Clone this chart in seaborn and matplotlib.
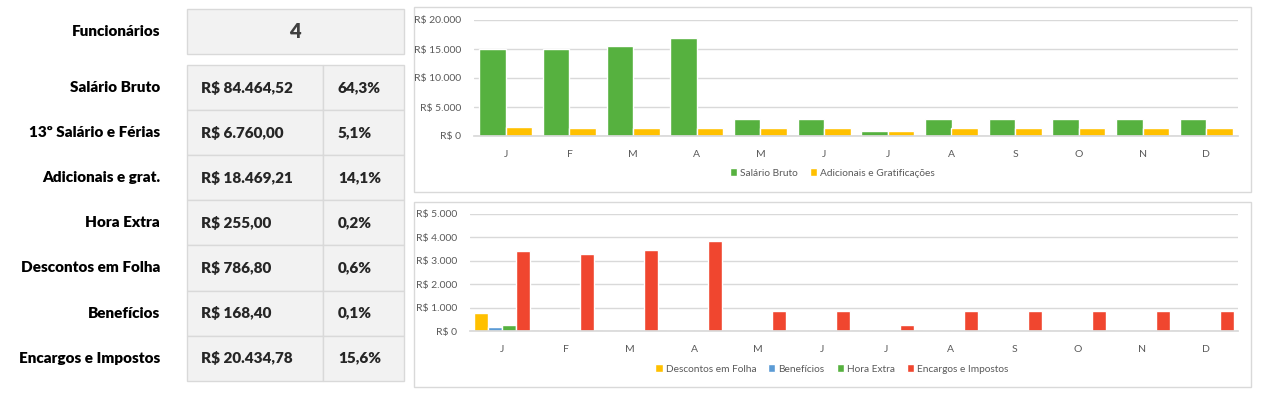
import matplotlib
matplotlib.use("Agg")
import matplotlib.pyplot as plt
from matplotlib.patches import Rectangle
from matplotlib.ticker import FuncFormatter, MultipleLocator
import pandas as pd
import seaborn as sns

# ---------------------------------------------------------------- data
meses = ["Jan", "Fev", "Mar", "Abr", "Mai", "Jun",
         "Jul", "Ago", "Set", "Out", "Nov", "Dez"]
meses_rotulo = ["J", "F", "M", "A", "M", "J", "J", "A", "S", "O", "N", "D"]

salario_bruto = [15000, 15000, 15500, 16900, 2950, 2950,
                 860, 2950, 2950, 2950, 2950, 2950]
adicionais = [1600, 1430, 1430, 1430, 1430, 1430,
              880, 1430, 1430, 1430, 1430, 1430]

descontos = [787, 0, 0, 0, 0, 0, 0, 0, 0, 0, 0, 0]
beneficios = [168, 0, 0, 0, 0, 0, 0, 0, 0, 0, 0, 0]
hora_extra = [255, 0, 0, 0, 0, 0, 0, 0, 0, 0, 0, 0]
encargos = [3430, 3300, 3475, 3860, 870, 870,
            270, 870, 870, 870, 870, 870]

funcionarios = "4"
resumo_rotulos = ["Salário Bruto", "13º Salário e Férias", "Adicionais e grat.",
                  "Hora Extra", "Descontos em Folha", "Benefícios",
                  "Encargos e Impostos"]
resumo_valores = ["R$ 84.464,52", "R$ 6.760,00", "R$ 18.469,21", "R$ 255,00",
                  "R$ 786,80", "R$ 168,40", "R$ 20.434,78"]
resumo_pct = ["64,3%", "5,1%", "14,1%", "0,2%", "0,6%", "0,1%", "15,6%"]

top_series = ["Salário Bruto", "Adicionais e Gratificações"]
bot_series = ["Descontos em Folha", "Benefícios", "Hora Extra", "Encargos e Impostos"]

top_colors = ["#56B13F", "#FFC000"]
bot_colors = ["#FFC000", "#5B9BD5", "#56B13F", "#F0462F"]

# ---------------------------------------------------------------- setup
sns.set_theme(style="white")
plt.rcParams["font.family"] = ["Lato", "DejaVu Sans"]

W, H = 1272, 399
fig = plt.figure(figsize=(W / 100, H / 100), dpi=100)
fig.patch.set_facecolor("white")

GRID = "#D9D9D9"
TXT = "#595959"


def px_axes(left, top, right, bottom, **kw):
    return fig.add_axes([left / W, 1 - bottom / H, (right - left) / W, (bottom - top) / H], **kw)


def brl(v, _pos=None):
    return "R$ " + f"{int(v):,}".replace(",", ".")


# background layer for table and chart frames
bg = px_axes(0, 0, W, H, zorder=0)
bg.set_xlim(0, W)
bg.set_ylim(H, 0)
bg.axis("off")

# Funcionários box
bg.add_patch(Rectangle((187, 9), 217, 45, facecolor="#F2F2F2", edgecolor=GRID, lw=1))
bg.text(160, 31, "Funcionários", ha="right", va="center", fontsize=11,
        fontweight="heavy", color="black")
bg.text(295, 32, funcionarios, ha="center", va="center", fontsize=14.5,
        fontweight="heavy", color="#404040")

# summary table
row_top, row_h = 65, 45.1
for i, (lab, val, pct) in enumerate(zip(resumo_rotulos, resumo_valores, resumo_pct)):
    y0 = row_top + i * row_h
    bg.add_patch(Rectangle((187, y0), 136, row_h, facecolor="#F2F2F2", edgecolor=GRID, lw=1))
    bg.add_patch(Rectangle((323, y0), 81, row_h, facecolor="#F2F2F2", edgecolor=GRID, lw=1))
    yc = y0 + row_h / 2
    bg.text(160, yc, lab, ha="right", va="center", fontsize=11,
            fontweight="heavy", color="black")
    bg.text(201, yc, val, ha="left", va="center", fontsize=11,
            fontweight="heavy", color="#262626")
    bg.text(338, yc, pct, ha="left", va="center", fontsize=11,
            fontweight="heavy", color="#262626")

# chart frames
bg.add_patch(Rectangle((414, 7), 837, 185, facecolor="white", edgecolor=GRID, lw=1))
bg.add_patch(Rectangle((414, 202), 837, 185, facecolor="white", edgecolor=GRID, lw=1))


def style_chart(ax, step, top):
    ax.set_facecolor("none")
    ax.set_ylim(0, top)
    ax.yaxis.set_major_locator(MultipleLocator(step))
    ax.yaxis.set_major_formatter(FuncFormatter(brl))
    ax.grid(axis="y", color=GRID, lw=1)
    ax.set_axisbelow(True)
    for s in ["top", "right", "left"]:
        ax.spines[s].set_visible(False)
    ax.spines["bottom"].set_color(GRID)
    ax.set_xlabel("")
    ax.set_ylabel("")
    ax.set_xticks(range(len(meses)))
    ax.set_xticklabels(meses_rotulo)
    ax.tick_params(axis="x", length=0, pad=10, labelsize=7.5, labelcolor=TXT)
    ax.tick_params(axis="y", length=0, pad=9, labelsize=7.5, labelcolor=TXT)


def add_legend(ax, series, colors, y):
    handles = [Rectangle((0, 0), 1, 1, facecolor=c) for c in colors]
    fig.legend(handles, series, loc="center", bbox_to_anchor=(832 / W, 1 - y / H),
               ncol=len(series), frameon=False, fontsize=7.3, handlelength=0.7,
               handleheight=0.7, handletextpad=0.3, columnspacing=1.2,
               labelcolor=TXT)


# ---------------------------------------------------------------- top chart
df_top = pd.DataFrame({
    "mes": meses * 2,
    "valor": salario_bruto + adicionais,
    "serie": [top_series[0]] * 12 + [top_series[1]] * 12,
})
ax1 = px_axes(474, 20, 1238, 136, zorder=1)
sns.barplot(data=df_top, x="mes", y="valor", hue="serie", order=meses,
            hue_order=top_series, palette=top_colors, width=0.83, gap=0,
            errorbar=None, saturation=1, legend=False, ax=ax1)
style_chart(ax1, 5000, 20000)
ax1.set_xlim(-0.5, 11.5)
add_legend(ax1, top_series, top_colors, 173)

# ---------------------------------------------------------------- bottom chart
df_bot = pd.DataFrame({
    "mes": meses * 4,
    "valor": descontos + beneficios + hora_extra + encargos,
    "serie": sum([[s] * 12 for s in bot_series], []),
})
ax2 = px_axes(470, 214, 1238, 331, zorder=1)
sns.barplot(data=df_bot, x="mes", y="valor", hue="serie", order=meses,
            hue_order=bot_series, palette=bot_colors, width=0.89, gap=0,
            errorbar=None, saturation=1, legend=False, ax=ax2)
style_chart(ax2, 1000, 5000)
ax2.set_xlim(-0.5, 11.5)
add_legend(ax2, bot_series, bot_colors, 369)

fig.savefig("out.png", dpi=100)
